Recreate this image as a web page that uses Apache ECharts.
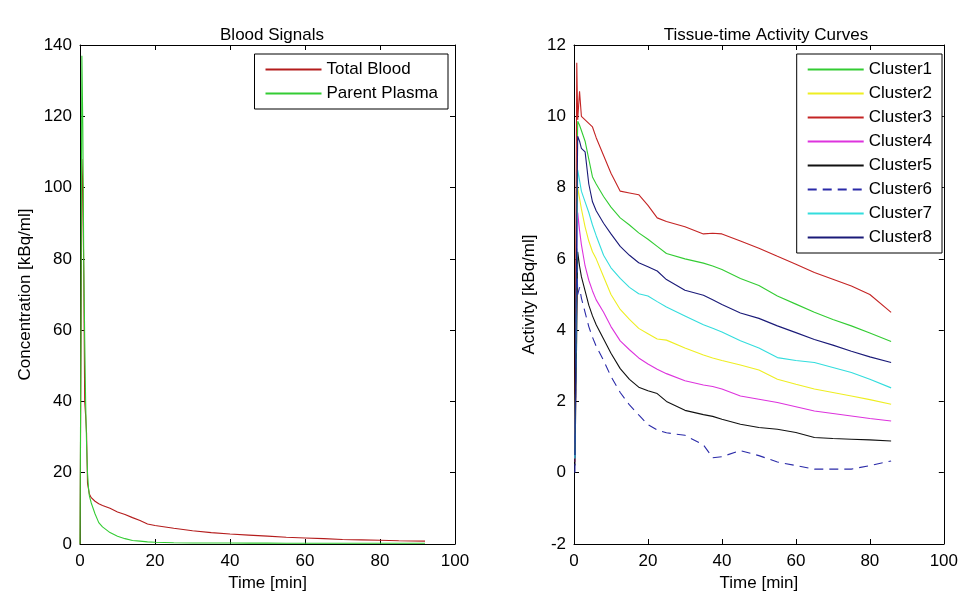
<!DOCTYPE html>
<html>
<head>
<meta charset="utf-8">
<script src="https://cdn.jsdelivr.net/npm/echarts@6/dist/echarts.min.js"></script>
<style>
  html, body { margin: 0; padding: 0; background: #fff; }
  #chart { width: 961px; height: 597px; }
</style>
</head>
<body>
<div id="chart"></div>
<script>
// blood signals (left panel)
var bloodTime = [0, 0.25, 0.5, 0.75, 1.0, 1.25, 1.5, 1.75, 2.0, 2.25, 2.5, 3, 4, 5, 6, 8, 10, 12, 14, 16, 18, 20, 25, 30, 35, 40, 45, 50, 55, 60, 65, 70, 75, 80, 85, 92]
var totalBlood = [0, 52, 108, 100, 76, 40, 36, 31, 17, 15.5, 14, 13, 12, 11.3, 10.8, 10, 9, 8.3, 7.4, 6.6, 5.6, 5.2, 4.4, 3.7, 3.2, 2.8, 2.5, 2.2, 1.9, 1.7, 1.5, 1.25, 1.15, 1.05, 0.9, 0.8]
var parentPlasma = [0, 60, 137, 117, 80, 58, 40, 28, 20, 16, 13.5, 11.5, 8.5, 6, 4.8, 3.2, 2.2, 1.5, 1.0, 0.8, 0.6, 0.5, 0.35, 0.3, 0.28, 0.26, 0.25, 0.24, 0.23, 0.22, 0.22, 0.21, 0.21, 0.2, 0.2, 0.2]

// tissue-time activity curves (right panel)
var tissueTime = [0.25, 0.75, 1.0, 1.5, 2, 3, 4, 5, 6, 8, 10, 12.5, 15, 17.5, 20, 22.5, 25, 30, 35, 37.5, 40, 45, 50, 55, 60, 65, 70, 75, 80, 85.75]
var cluster1 = [0.5, 8, 9.86, 9.75, 9.6, 9.3, 8.8, 8.3, 8.1, 7.75, 7.45, 7.15, 6.95, 6.73, 6.55, 6.35, 6.15, 6.0, 5.88, 5.8, 5.7, 5.45, 5.25, 4.96, 4.73, 4.5, 4.3, 4.12, 3.92, 3.68]
var cluster2 = [0.4, 6, 8.0, 7.7, 7.4, 6.9, 6.5, 6.2, 6.0, 5.5, 5.0, 4.58, 4.3, 4.05, 3.9, 3.75, 3.72, 3.5, 3.3, 3.22, 3.15, 3.02, 2.88, 2.62, 2.48, 2.35, 2.25, 2.15, 2.05, 1.92]
var cluster3 = [0.8, 11.5, 9.9, 10.7, 10.0, 9.9, 9.8, 9.7, 9.4, 8.9, 8.4, 7.9, 7.85, 7.8, 7.5, 7.15, 7.05, 6.9, 6.7, 6.72, 6.7, 6.5, 6.3, 6.07, 5.85, 5.62, 5.43, 5.24, 5.0, 4.5]
var cluster4 = [0.3, 5, 7.3, 6.8, 6.4, 5.8, 5.4, 5.1, 4.85, 4.5, 4.1, 3.7, 3.45, 3.22, 3.05, 2.9, 2.78, 2.58, 2.46, 2.42, 2.35, 2.15, 2.06, 1.97, 1.85, 1.73, 1.66, 1.59, 1.52, 1.45]
var cluster5 = [0.2, 4, 6.2, 5.8, 5.5, 5.1, 4.7, 4.4, 4.15, 3.75, 3.35, 2.92, 2.62, 2.4, 2.3, 2.22, 2.0, 1.75, 1.63, 1.58, 1.5, 1.36, 1.27, 1.22, 1.13, 0.99, 0.96, 0.94, 0.92, 0.89]
var cluster6 = [0.0, 6.3, 5.0, 5.2, 4.9, 4.5, 4.1, 3.8, 3.55, 3.15, 2.7, 2.25, 1.9, 1.62, 1.35, 1.2, 1.12, 1.05, 0.78, 0.42, 0.45, 0.62, 0.48, 0.3, 0.2, 0.1, 0.1, 0.1, 0.2, 0.33]
var cluster7 = [0.4, 6, 8.5, 8.2, 7.9, 7.6, 7.3, 6.95, 6.65, 6.1, 5.75, 5.45, 5.2, 5.02, 4.96, 4.8, 4.65, 4.4, 4.15, 4.05, 3.95, 3.7, 3.5, 3.23, 3.15, 3.09, 2.95, 2.81, 2.62, 2.38]
var cluster8 = [0.5, 7, 9.44, 9.3, 9.1, 9.0, 8.1, 7.6, 7.35, 7.0, 6.7, 6.35, 6.1, 5.89, 5.78, 5.66, 5.42, 5.12, 4.98, 4.85, 4.72, 4.48, 4.33, 4.12, 3.93, 3.74, 3.58, 3.41, 3.25, 3.09]

var clusterNames = ['Cluster1', 'Cluster2', 'Cluster3', 'Cluster4', 'Cluster5', 'Cluster6', 'Cluster7', 'Cluster8']
var clusterValues = [cluster1, cluster2, cluster3, cluster4, cluster5, cluster6, cluster7, cluster8]
var clusterColors = ['#33cc33', '#eeee22', '#c42424', '#dd33dd', '#111111', '#2a2aa8', '#33dddd', '#1a1a78']

var font = 'Liberation Sans'
var fs = 17

function pairs (xs, ys) {
  return xs.map(function (x, i) { return [x, ys[i]] })
}

function xAx (grid, pos, show) {
  return {
    type: 'value', gridIndex: grid, position: pos, min: 0, max: 100, interval: 20,
    name: show ? 'Time [min]' : '', nameLocation: 'middle', nameGap: 31,
    nameTextStyle: { color: '#000', fontFamily: font, fontSize: fs },
    axisLine: { show: true, onZero: false, lineStyle: { color: '#000', width: 1 } },
    axisTick: { show: true, inside: true, length: 5, lineStyle: { color: '#000' } },
    axisLabel: { show: show, color: '#000', fontFamily: font, fontSize: fs, margin: 9 },
    splitLine: { show: false }
  }
}

function yAx (grid, pos, min, max, name, gap) {
  return {
    type: 'value', gridIndex: grid, position: pos, min: min, max: max, interval: 20 * (max - min) / 140,
    name: name, nameLocation: 'middle', nameGap: gap,
    nameTextStyle: { color: '#000', fontFamily: font, fontSize: fs },
    axisLine: { show: true, onZero: false, lineStyle: { color: '#000', width: 1 } },
    axisTick: { show: true, inside: true, length: 5, lineStyle: { color: '#000' } },
    axisLabel: { show: pos === 'left', color: '#000', fontFamily: font, fontSize: fs, margin: 8 },
    splitLine: { show: false }
  }
}

function lineSeries (name, xi, yi, data, color, dashed) {
  return {
    name: name, type: 'line', xAxisIndex: xi, yAxisIndex: yi,
    data: data, symbol: 'none', color: color,
    lineStyle: { width: 1.1, color: color, type: dashed ? [9, 6] : 'solid' }
  }
}

var series = [
  lineSeries('Total Blood', 0, 0, pairs(bloodTime, totalBlood), '#b41c1c'),
  lineSeries('Parent Plasma', 0, 0, pairs(bloodTime, parentPlasma), '#33cc33')
]
clusterNames.forEach(function (n, i) {
  series.push(lineSeries(n, 2, 2, pairs(tissueTime, clusterValues[i]), clusterColors[i], i === 5))
})

var legendBase = {
  orient: 'vertical', top: 54, itemWidth: 56, itemHeight: 14, itemGap: 7,
  padding: [7, 10, 7, 10], borderColor: '#000', borderWidth: 1, borderRadius: 0,
  backgroundColor: '#fff',
  itemStyle: { opacity: 0, borderWidth: 0 },
  textStyle: { color: '#000', fontFamily: font, fontSize: fs }
}

var chart = echarts.init(document.getElementById('chart'))
chart.setOption({
  animation: false,
  backgroundColor: '#fff',
  title: [
    { text: 'Blood Signals', left: 267, top: 22, textAlign: 'center',
      textStyle: { color: '#000', fontWeight: 'normal', fontFamily: font, fontSize: fs } },
    { text: 'Tissue-time Activity Curves', left: 761, top: 22, textAlign: 'center',
      textStyle: { color: '#000', fontWeight: 'normal', fontFamily: font, fontSize: fs } }
  ],
  legend: [
    Object.assign({}, legendBase, { right: 513, data: ['Total Blood', 'Parent Plasma'] }),
    Object.assign({}, legendBase, { right: 19, data: clusterNames })
  ],
  grid: [
    { left: 80, right: 506, top: 45, bottom: 52 },
    { left: 574, right: 13, top: 45, bottom: 52 }
  ],
  xAxis: [xAx(0, 'bottom', true), xAx(0, 'top', false), xAx(1, 'bottom', true), xAx(1, 'top', false)],
  yAxis: [
    yAx(0, 'left', 0, 140, 'Concentration [kBq/ml]', 46),
    yAx(0, 'right', 0, 140, '', 0),
    yAx(1, 'left', -2, 12, 'Activity [kBq/ml]', 36),
    yAx(1, 'right', -2, 12, '', 0)
  ],
  series: series
})
</script>
</body>
</html>
